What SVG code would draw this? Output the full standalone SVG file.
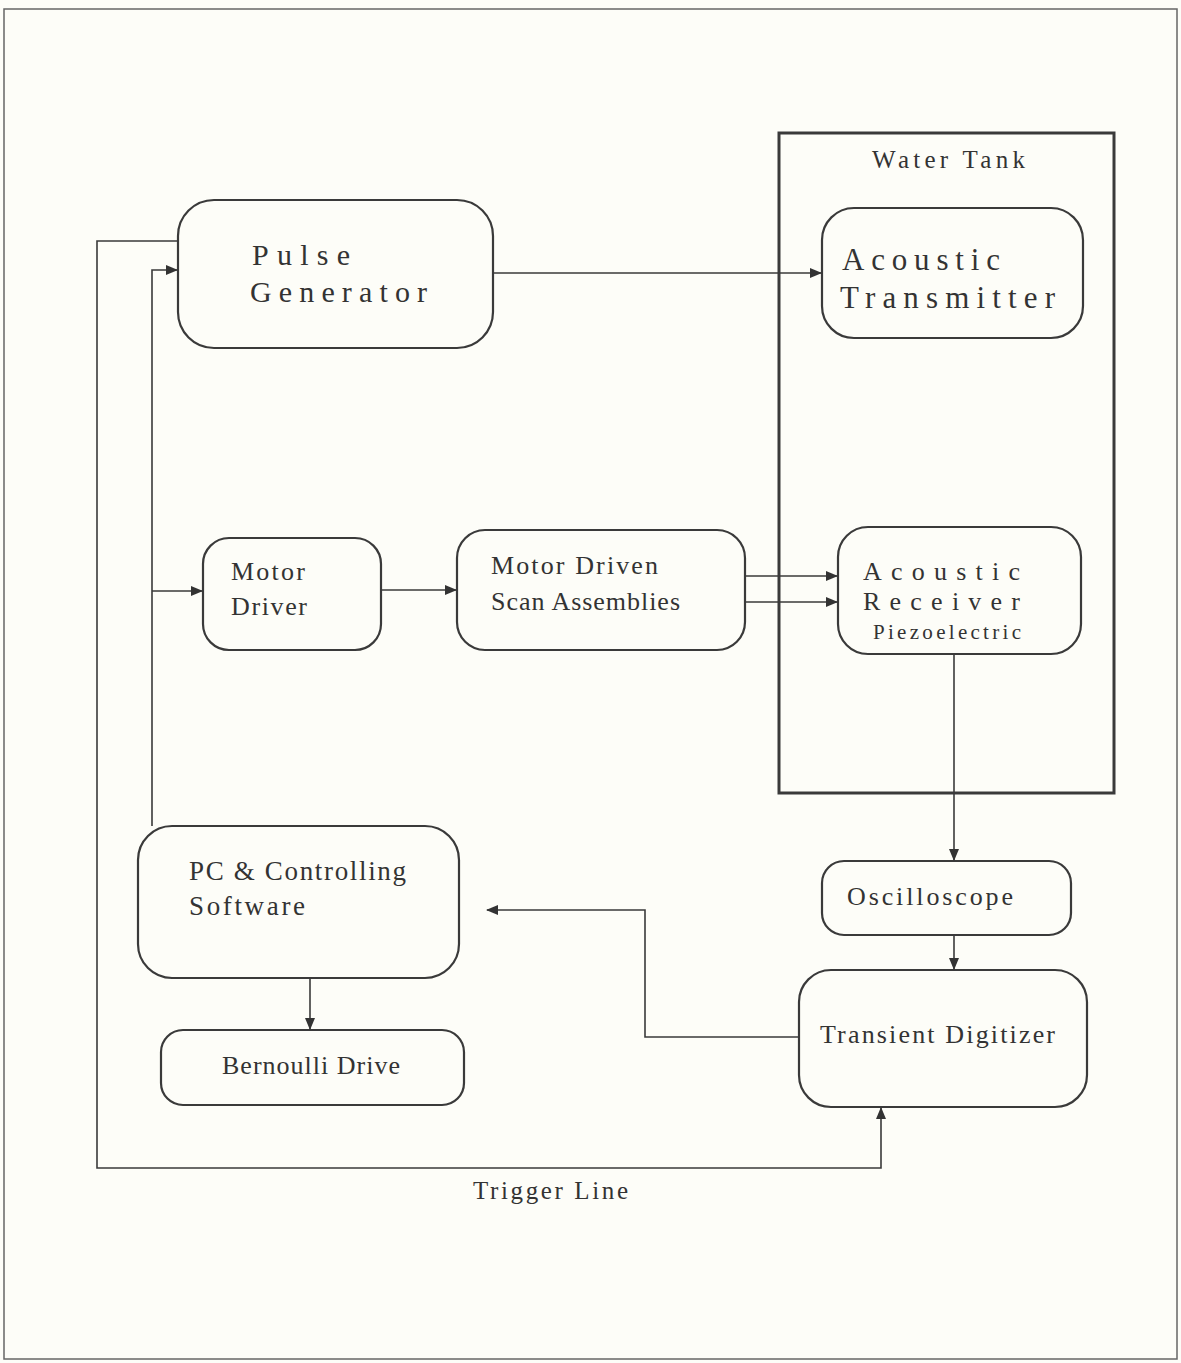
<svg xmlns="http://www.w3.org/2000/svg" width="1181" height="1363" viewBox="0 0 1181 1363">
<defs>
<marker id="ah" markerWidth="12" markerHeight="10" refX="11" refY="5" orient="auto" markerUnits="userSpaceOnUse">
<path d="M0,0 L12,5 L0,10 Z" fill="#333"/>
</marker>
<style>
.box{fill:none;stroke:#3a3a3a;stroke-width:2.2}
.ln{fill:none;stroke:#3a3a3a;stroke-width:1.6}
.t{font-family:"Liberation Serif",serif;fill:#333}
</style>
</defs>
<rect x="0" y="0" width="1181" height="1363" fill="#fdfdf8"/>
<rect x="4" y="9" width="1173" height="1350" fill="none" stroke="#666" stroke-width="1.5"/>
<g id="water-tank">
<rect x="779" y="133" width="335" height="660" fill="none" stroke="#3a3a3a" stroke-width="3"/>
<text class="t" x="872" y="168" font-size="25" textLength="153" lengthAdjust="spacing">Water Tank</text>
</g>
<g id="pulse-generator">
<rect class="box" x="178" y="200" width="315" height="148" rx="36"/>
<text class="t" x="252" y="265" font-size="30" textLength="98" lengthAdjust="spacing">Pulse</text>
<text class="t" x="250" y="302" font-size="30" textLength="177" lengthAdjust="spacing">Generator</text>
</g>
<g id="acoustic-transmitter">
<rect class="box" x="822" y="208" width="261" height="130" rx="32"/>
<text class="t" x="842" y="270" font-size="31" textLength="158" lengthAdjust="spacing">Acoustic</text>
<text class="t" x="840" y="308" font-size="31" textLength="215" lengthAdjust="spacing">Transmitter</text>
</g>
<g id="motor-driver">
<rect class="box" x="203" y="538" width="178" height="112" rx="26"/>
<text class="t" x="231" y="580" font-size="26" textLength="74" lengthAdjust="spacing">Motor</text>
<text class="t" x="231" y="615" font-size="26" textLength="76" lengthAdjust="spacing">Driver</text>
</g>
<g id="scan-assemblies">
<rect class="box" x="457" y="530" width="288" height="120" rx="28"/>
<text class="t" x="491" y="574" font-size="26" textLength="167" lengthAdjust="spacing">Motor Driven</text>
<text class="t" x="491" y="610" font-size="26" textLength="189" lengthAdjust="spacing">Scan Assemblies</text>
</g>
<g id="acoustic-receiver">
<rect class="box" x="838" y="527" width="243" height="127" rx="30"/>
<text class="t" x="863" y="580" font-size="26" textLength="157" lengthAdjust="spacing">Acoustic</text>
<text class="t" x="863" y="610" font-size="26" textLength="157" lengthAdjust="spacing">Receiver</text>
<text class="t" x="873" y="639" font-size="21" textLength="148" lengthAdjust="spacing">Piezoelectric</text>
</g>
<g id="oscilloscope">
<rect class="box" x="822" y="861" width="249" height="74" rx="22"/>
<text class="t" x="847" y="905" font-size="26" textLength="166" lengthAdjust="spacing">Oscilloscope</text>
</g>
<g id="transient-digitizer">
<rect class="box" x="799" y="970" width="288" height="137" rx="32"/>
<text class="t" x="820" y="1043" font-size="26" textLength="235" lengthAdjust="spacing">Transient Digitizer</text>
</g>
<g id="pc-software">
<rect class="box" x="138" y="826" width="321" height="152" rx="34"/>
<text class="t" x="189" y="880" font-size="27" textLength="217" lengthAdjust="spacing">PC &amp; Controlling</text>
<text class="t" x="189" y="915" font-size="27" textLength="116" lengthAdjust="spacing">Software</text>
</g>
<g id="bernoulli-drive">
<rect class="box" x="161" y="1030" width="303" height="75" rx="22"/>
<text class="t" x="222" y="1074" font-size="26" textLength="178" lengthAdjust="spacing">Bernoulli Drive</text>
</g>
<g id="connectors">
<polyline class="ln" points="178,241 97,241 97,1168 881,1168 881,1108" marker-end="url(#ah)" stroke-width="2"/>
<polyline class="ln" points="152,826 152,270 177,270" marker-end="url(#ah)"/>
<line class="ln" x1="152" y1="591" x2="202" y2="591" marker-end="url(#ah)"/>
<line class="ln" x1="493" y1="273" x2="821" y2="273" marker-end="url(#ah)"/>
<line class="ln" x1="381" y1="590" x2="456" y2="590" marker-end="url(#ah)"/>
<line class="ln" x1="745" y1="576" x2="837" y2="576" marker-end="url(#ah)"/>
<line class="ln" x1="745" y1="602" x2="837" y2="602" marker-end="url(#ah)"/>
<line class="ln" x1="954" y1="654" x2="954" y2="860" marker-end="url(#ah)"/>
<line class="ln" x1="954" y1="935" x2="954" y2="969" marker-end="url(#ah)"/>
<polyline class="ln" points="799,1037 645,1037 645,910 487,910" marker-end="url(#ah)"/>
<line class="ln" x1="310" y1="978" x2="310" y2="1029" marker-end="url(#ah)"/>
<text class="t" x="473" y="1199" font-size="25" textLength="155" lengthAdjust="spacing">Trigger Line</text>
</g>
</svg>
